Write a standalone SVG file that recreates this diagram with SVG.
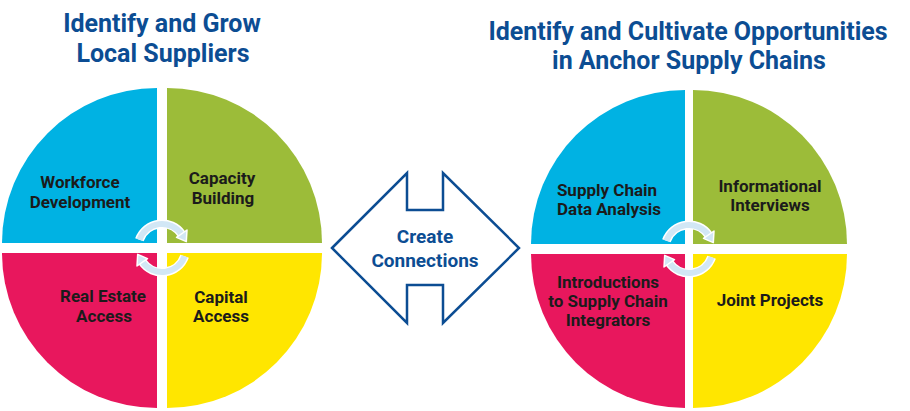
<svg xmlns="http://www.w3.org/2000/svg" xmlns:xlink="http://www.w3.org/1999/xlink" width="910" height="411" viewBox="0 0 910 411">
<style>
.title{font-family:Roboto,"Liberation Sans",sans-serif;font-weight:700;font-size:25px;fill:#0c4d93;text-anchor:middle}
.lbl{font-family:Roboto,"Liberation Sans",sans-serif;font-weight:700;font-size:17px;fill:#1b1b1b;text-anchor:middle}
.ctr{font-family:Roboto,"Liberation Sans",sans-serif;font-weight:700;font-size:19px;fill:#0c4d93;text-anchor:middle}
.blue{fill:#00b2e3}.green{fill:#9cbc39}.pink{fill:#e8175d}.yellow{fill:#ffe600}
.arcw{fill:none;stroke:#ffffff;stroke-width:9}
.arcb{fill:none;stroke:#d2e7f5;stroke-width:6}
.head{fill:#d2e7f5;stroke:#ffffff;stroke-width:1.5;stroke-linejoin:round}
</style>
<defs>
<g id="cycle">
<path class="arcw" d="M-22.6,-8.2 A24,24 0 0 1 19.7,-13.8"/>
<path class="arcw" d="M22.6,8.2 A24,24 0 0 1 -19.7,13.8"/>
<path class="arcb" d="M-22.6,-8.2 A24,24 0 0 1 19.7,-13.8"/>
<path class="arcb" d="M22.6,8.2 A24,24 0 0 1 -19.7,13.8"/>
<polygon class="head" points="25,-18 14.5,-10.6 24.3,-6.4"/>
<polygon class="head" points="-25,18 -14.5,10.6 -24.3,6.4"/>
</g>
</defs>
<rect width="910" height="411" fill="#ffffff"/>

<g id="title-left">
<text class="title" x="162" y="32">Identify and Grow</text>
<text class="title" x="163" y="62">Local Suppliers</text>
</g>
<g id="title-right">
<text class="title" x="688" y="40">Identify and Cultivate Opportunities</text>
<text class="title" x="689" y="69">in Anchor Supply Chains</text>
</g>

<g id="workforce">
<path class="blue" d="M157,243 L2,243 A155,155 0 0 1 157,88 Z"/>
<text class="lbl" x="80" y="188">Workforce</text>
<text class="lbl" x="80" y="208">Development</text>
</g>
<g id="capacity">
<path class="green" d="M167,243 L167,88 A155,155 0 0 1 322,243 Z"/>
<text class="lbl" x="222" y="184">Capacity</text>
<text class="lbl" x="223" y="204">Building</text>
</g>
<g id="realestate">
<path class="pink" d="M157,253 L157,408 A155,155 0 0 1 2,253 Z"/>
<text class="lbl" x="103" y="302">Real Estate</text>
<text class="lbl" x="104" y="322">Access</text>
</g>
<g id="capital">
<path class="yellow" d="M167,253 L322,253 A155,155 0 0 1 167,408 Z"/>
<text class="lbl" x="221" y="303">Capital</text>
<text class="lbl" x="221" y="322">Access</text>
</g>

<g id="supplychain">
<path class="blue" d="M685,244 L531,244 A154,154 0 0 1 685,90 Z"/>
<text class="lbl" x="607" y="196">Supply Chain</text>
<text class="lbl" x="609" y="215">Data Analysis</text>
</g>
<g id="interviews">
<path class="green" d="M693,244 L693,90 A154,154 0 0 1 847,244 Z"/>
<text class="lbl" x="770" y="192">Informational</text>
<text class="lbl" x="770" y="211">Interviews</text>
</g>
<g id="introductions">
<path class="pink" d="M685,254 L685,408 A154,154 0 0 1 531,254 Z"/>
<text class="lbl" x="608" y="288">Introductions</text>
<text class="lbl" x="608" y="307">to Supply Chain</text>
<text class="lbl" x="608" y="326">Integrators</text>
</g>
<g id="joint">
<path class="yellow" d="M693,254 L847,254 A154,154 0 0 1 693,408 Z"/>
<text class="lbl" x="770" y="306">Joint Projects</text>
</g>

<g id="connectors">
<use xlink:href="#cycle" href="#cycle" transform="translate(162,248)"/>
<use xlink:href="#cycle" href="#cycle" transform="translate(689,249)"/>
</g>

<g id="create-connections">
<path d="M332,248 L407,173 L407,210 L443,210 L443,173 L519,248 L443,323 L443,285 L407,285 L407,323 Z" fill="#ffffff" stroke="#0c4d93" stroke-width="2.5" stroke-linejoin="miter"/>
<text class="ctr" x="425" y="243">Create</text>
<text class="ctr" x="425" y="267">Connections</text>
</g>
</svg>
